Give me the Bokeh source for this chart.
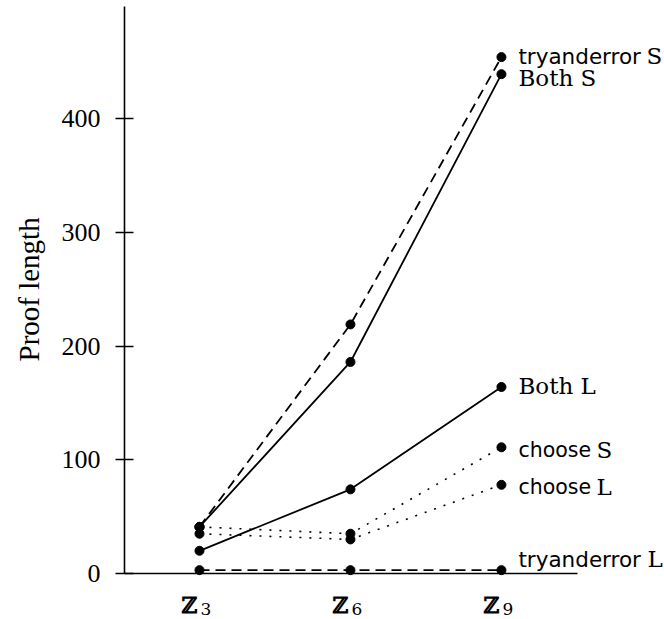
import math
from bokeh.plotting import figure
from bokeh.models import Range1d, Label, FixedTicker, Title
from bokeh.embed import file_html
from bokeh.resources import INLINE

# ---- data ----
groups = [3, 6, 9]
x_tick_main = ["ℤ", "ℤ", "ℤ"]
x_tick_sub = ["3", "6", "9"]
y_ticks = [0, 100, 200, 300, 400]

tryanderror_S = [41, 219, 454]
both_S = [41, 186, 439]
both_L = [20, 74, 164]
choose_S = [41, 35, 111]
choose_L = [35, 30, 78]
tryanderror_L = [3, 3, 3]

SERIF = "DejaVu Serif"
SANS = "DejaVu Sans"
Y_TOP = 498.5

p = figure(width=664, height=619,
           x_range=Range1d(1.51, 12.24), y_range=Range1d(-40.4, Y_TOP),
           output_backend="svg", toolbar_location=None,
           min_border_left=124, min_border_right=0,
           min_border_top=6, min_border_bottom=0)
p.outline_line_color = None
p.xgrid.visible = False
p.ygrid.visible = False
p.background_fill_color = "white"
p.border_fill_color = "white"

# y axis
ya = p.yaxis[0]
ya.ticker = FixedTicker(ticks=y_ticks)
ya.bounds = (0, Y_TOP)
ya.major_tick_in = 9
ya.major_tick_out = 9
ya.minor_tick_line_color = None
ya.major_label_standoff = 15
ya.axis_line_width = 1.6
ya.major_tick_line_width = 1.6
ya.axis_line_color = "black"
ya.major_tick_line_color = "black"
ya.major_label_text_font = "Liberation Serif"
ya.major_label_text_font_size = "26px"
ya.major_label_text_color = "black"

# x axis: line at y = 0, labels drawn as ℤ with subscripts
xa = p.xaxis[0]
xa.fixed_location = 0
xa.ticker = FixedTicker(ticks=[])
xa.bounds = (1.51, 10.51)
xa.major_tick_in = 0
xa.major_tick_out = 0
xa.minor_tick_line_color = None
xa.axis_line_width = 1.6
xa.axis_line_color = "black"

# y axis title
p.add_layout(Title(text="Proof length", align="left", vertical_align="top",
                   offset=258, standoff=24,
                   text_font="Liberation Serif", text_font_size="29px",
                   text_font_style="normal", text_color="black"), "left")

series = [
    (tryanderror_S, "dashed"),
    (both_S, "solid"),
    (both_L, "solid"),
    (choose_S, "dotted"),
    (choose_L, "dotted"),
    (tryanderror_L, "dashed"),
]
for ys, style in series:
    if style == "dashed":
        p.line(groups, ys, line_color="black", line_width=1.8, line_dash="10 6")
    elif style == "dotted":
        p.line(groups, ys, line_color="black", line_width=1.6, line_dash="2 8")
    else:
        p.line(groups, ys, line_color="black", line_width=1.8)
    p.scatter(groups, ys, size=9, fill_color="black", line_color="black")

# x tick labels: ℤ with subscript
for g, m, s in zip(groups, x_tick_main, x_tick_sub):
    p.add_layout(Label(x=g, y=0, x_offset=-18, y_offset=-31, text=m,
                       text_font=SERIF, text_font_size="22px",
                       text_font_style="bold",
                       text_baseline="alphabetic", text_align="left",
                       text_color="black"))
    p.add_layout(Label(x=g, y=0, x_offset=1, y_offset=-35, text=s,
                       text_font=SERIF, text_font_size="17px",
                       text_baseline="alphabetic", text_align="left",
                       text_color="black"))

# end labels: (values, sans part, sans size, serif part, serif offset, baseline drop)
end_labels = [
    (tryanderror_S, "tryanderror", "21.5px", "S", 145, -1),
    (both_S, None, None, "Both S", 17, 4),
    (both_L, None, None, "Both L", 17, -1),
    (choose_S, "choose", "20.5px", "S", 95, 3),
    (choose_L, "choose", "20.5px", "L", 95, 2),
    (tryanderror_L, "tryanderror", "21.5px", "L", 146, -11),
]
for ys, sans_txt, sans_size, serif_txt, off, drop in end_labels:
    if sans_txt:
        p.add_layout(Label(x=groups[-1], y=ys[-1], x_offset=17, y_offset=-drop,
                           text=sans_txt, text_font=SANS, text_font_size=sans_size,
                           text_baseline="alphabetic", text_align="left",
                           text_color="black"))
    p.add_layout(Label(x=groups[-1], y=ys[-1], x_offset=off, y_offset=-drop,
                       text=serif_txt, text_font=SERIF, text_font_size="23px",
                       text_baseline="alphabetic", text_align="left",
                       text_color="black"))

open("out.html", "w").write(file_html(p, INLINE))
